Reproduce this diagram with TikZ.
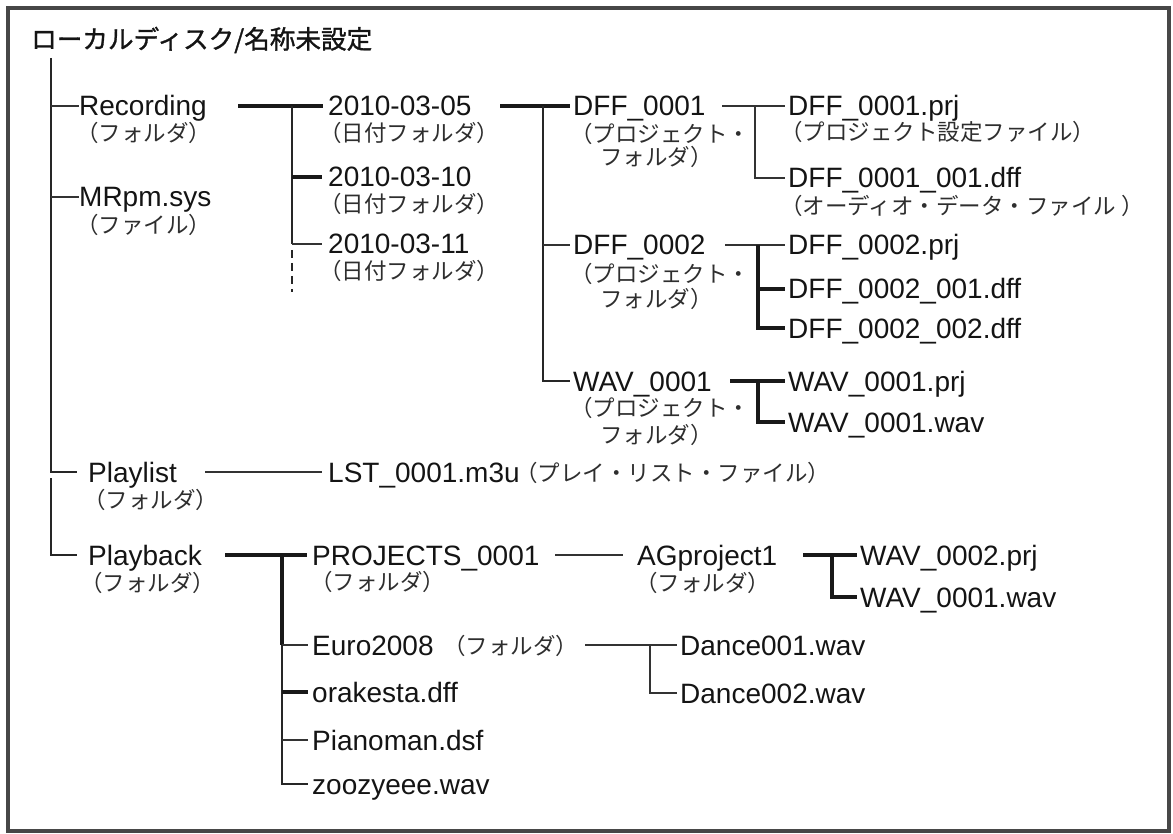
\documentclass[tikz,border=0pt]{standalone}
\usepackage{fontspec}
\setmainfont{Liberation Sans}
\newfontfamily\jp{Noto Sans CJK JP}
\newfontfamily\jpb[FakeBold=1.2]{Noto Sans CJK JP}
\begin{document}
\begin{tikzpicture}[x=1pt,y=-1pt,
  lt/.style={line width=1.8pt, draw=black!80},
  md/.style={line width=2.6pt, draw=black!85},
  hv/.style={line width=4pt, draw=black!90},
  mh/.style={line width=3.3pt, draw=black!90},
  mn/.style={anchor=west, inner sep=0pt, text height=20pt, text depth=0pt, font=\fontsize{28}{30}\selectfont, text=black!92},
  sb/.style={anchor=base west, inner sep=0pt, yshift=-9.5pt, font=\jp\fontsize{22.5}{24}\selectfont, text=black!82},
]
\useasboundingbox (0,0) rectangle (1173,834);
\draw[line width=3.2pt, draw=black!72] (8,8) rectangle (1169,831);

% title and root
\node[anchor=west, inner sep=0pt, font=\jpb\fontsize{25.6}{27}\selectfont, text=black!92] (title) at (31,40) {ローカルディスク/名称未設定};
\coordinate (rTop) at (51,58);
\coordinate (rMid) at (51,478);
\node[mn] (rec) at (79,106) {Recording};
\node[sb] (recS) at (76,132) {（フォルダ）};
\node[mn] (mrpm) at (79,197) {MRpm.sys};
\node[sb] (mrpmS) at (76,224) {（ファイル）};
\node[mn] (pl) at (88,472) {Playlist};
\node[sb] (plS) at (83,499) {（フォルダ）};
\node[mn] (pb) at (88,555) {Playback};
\node[sb] (pbS) at (80,582) {（フォルダ）};
\draw[md] (rTop) |- ([xshift=-11pt]pl.west);
\draw[md] (rMid) |- ([xshift=-11pt]pb.west);
\draw[lt] (rec.west -| rTop) -- (rec.west);
\draw[lt] (mrpm.west -| rTop) -- (mrpm.west);

% date folders
\coordinate (recOut) at (238,106);
\coordinate (dSp) at (292,106);
\coordinate (dEnd) at (292,292);
\node[mn] (d05) at (328,106) {2010-03-05};
\node[sb] (d05S) at (319,132) {（日付フォルダ）};
\node[mn] (d10) at (328,177) {2010-03-10};
\node[sb] (d10S) at (319,203) {（日付フォルダ）};
\node[mn] (d11) at (328,244) {2010-03-11};
\node[sb] (d11S) at (319,270) {（日付フォルダ）};
\draw[hv, shorten >=5pt] (recOut) -- (d05.west);
\draw[md] (dSp) -- (dSp |- d11.west);
\draw[hv] (dSp |- d10.west) -- ([xshift=-6pt]d10.west);
\draw[lt] (dSp |- d11.west) -- ([xshift=-6pt]d11.west);
\draw[md, dash pattern=on 8pt off 5pt] ([yshift=-6pt]dSp |- d11.west) -- (dEnd);

% project folders
\coordinate (d05Out) at (500,106);
\coordinate (fSp) at (543,106);
\node[mn] (f1) at (573,106) {DFF\_0001};
\node[sb] (f1S) at (570,133) {（プロジェクト・};
\node[sb] (f1T) at (600,156) {フォルダ）};
\node[mn] (f2) at (573,245) {DFF\_0002};
\node[sb] (f2S) at (570,273) {（プロジェクト・};
\node[sb] (f2T) at (600,298) {フォルダ）};
\node[mn] (w1) at (573,381) {WAV\_0001};
\node[sb] (w1S) at (570,407) {（プロジェクト・};
\node[sb] (w1T) at (600,434) {フォルダ）};
\draw[hv, shorten >=3pt] (d05Out) -- (f1.west);
\draw[md] (fSp) |- ([xshift=-3pt]w1.west);
\draw[lt] (fSp |- f2.west) -- ([xshift=-3pt]f2.west);

% DFF_0001 files
\coordinate (f1Out) at (722,106);
\coordinate (f1Sp) at (755,106);
\node[mn] (f1a) at (788,106) {DFF\_0001.prj};
\node[sb] (f1aS) at (780,131) {（プロジェクト設定ファイル）};
\node[mn] (f1b) at (788,178) {DFF\_0001\_001.dff};
\node[sb] (f1bS) at (780,205) {（オーディオ・データ・ファイル ）};
\draw[lt, shorten >=3pt] (f1Out) -- (f1a.west);
\draw[lt, shorten >=3pt] (f1Sp) |- (f1b.west);

% DFF_0002 files
\coordinate (f2Out) at (725,245);
\coordinate (f2Sp) at (758,245);
\node[mn] (f2a) at (788,245) {DFF\_0002.prj};
\node[mn] (f2b) at (788,289) {DFF\_0002\_001.dff};
\node[mn] (f2c) at (788,328) {DFF\_0002\_002.dff};
\draw[lt, shorten >=3pt] (f2Out) -- (f2a.west);
\draw[hv] (f2Sp) |- ([xshift=-3pt]f2c.west);
\draw[mh] (f2Sp |- f2b.west) -- ([xshift=-3pt]f2b.west);

% WAV_0001 files
\coordinate (w1Out) at (730,381);
\coordinate (w1Sp) at (758,381);
\node[mn] (w1a) at (788,381) {WAV\_0001.prj};
\node[mn] (w1b) at (788,422) {WAV\_0001.wav};
\draw[hv, shorten >=3pt] (w1Out) -- (w1a.west);
\draw[hv] (w1Sp) |- ([xshift=-3pt]w1b.west);

% Playlist
\coordinate (plOut) at (205,472);
\node[mn] (lst) at (328,472) {LST\_0001.m3u};
\node[sb] (lstS) at (515,472) {（プレイ・リスト・ファイル）};
\draw[lt, shorten >=6pt] (plOut) -- (lst.west);

% Playback
\coordinate (pbOut) at (225,555);
\coordinate (pbSp) at (282,555);
\node[mn] (prj) at (312,555) {PROJECTS\_0001};
\node[sb] (prjS) at (310,581) {（フォルダ）};
\node[mn] (eu) at (312,645) {Euro2008};
\node[sb] (euS) at (443,645) {（フォルダ）};
\node[mn] (ora) at (312,692) {orakesta.dff};
\node[mn] (pia) at (312,740) {Pianoman.dsf};
\node[mn] (zoo) at (312,784) {zoozyeee.wav};
\draw[hv, shorten >=5pt] (pbOut) -- (prj.west);
\draw[hv] (pbSp) -- (pbSp |- eu.west);
\draw[lt] (pbSp |- eu.west) -- ([xshift=-4pt]eu.west);
\draw[md] (pbSp |- eu.west) |- ([xshift=-4pt]zoo.west);
\draw[hv] (pbSp |- ora.west) -- ([xshift=-4pt]ora.west);
\draw[lt] (pbSp |- pia.west) -- ([xshift=-4pt]pia.west);

% AGproject1
\coordinate (prjOut) at (555,555);
\coordinate (agOut) at (803,555);
\coordinate (agSp) at (832,555);
\node[mn] (ag) at (637,555) {AGproject1};
\node[sb] (agS) at (635,582) {（フォルダ）};
\node[mn] (ag1) at (860,555) {WAV\_0002.prj};
\node[mn] (ag2) at (860,597) {WAV\_0001.wav};
\draw[lt, shorten >=14pt] (prjOut) -- (ag.west);
\draw[hv, shorten >=3pt] (agOut) -- (ag1.west);
\draw[hv] (agSp) |- ([xshift=-3pt]ag2.west);

% Euro2008
\coordinate (euOut) at (585,645);
\coordinate (euSp) at (650,645);
\node[mn] (da1) at (680,645) {Dance001.wav};
\node[mn] (da2) at (680,693) {Dance002.wav};
\draw[lt, shorten >=3pt] (euOut) -- (da1.west);
\draw[lt] (euSp) |- ([xshift=-3pt]da2.west);
\end{tikzpicture}
\end{document}
